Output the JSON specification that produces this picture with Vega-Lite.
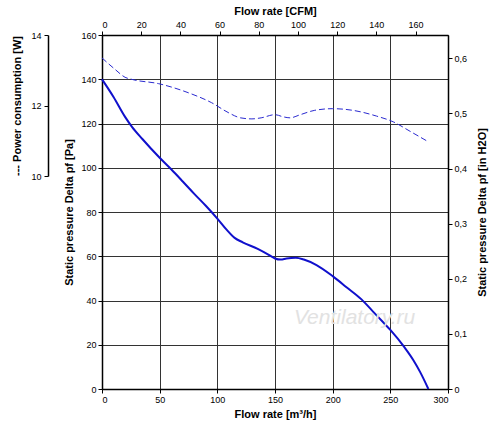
{
  "$schema": "https://vega.github.io/schema/vega-lite/v6.json",
  "width": 346,
  "height": 354,
  "autosize": "none",
  "padding": {"left": 102, "top": 35, "right": 52, "bottom": 38},
  "background": "white",
  "view": {"stroke": null},
  "config": {
    "axis": {
      "labelFont": "Liberation Sans",
      "labelFontSize": 9,
      "labelColor": "black",
      "titleFont": "Liberation Sans",
      "titleFontSize": 11,
      "titleFontWeight": "bold",
      "titleColor": "black",
      "domainColor": "black",
      "domainWidth": 1.5,
      "tickColor": "black",
      "tickSize": 4,
      "gridColor": "#333333",
      "gridWidth": 1,
      "gridOpacity": 1
    }
  },
  "datasets": {
    "pressure": [
      {"flow": 0, "pa": 140},
      {"flow": 10, "pa": 132},
      {"flow": 20, "pa": 123},
      {"flow": 26, "pa": 118.5},
      {"flow": 35, "pa": 113},
      {"flow": 50, "pa": 104.5},
      {"flow": 60, "pa": 99.3},
      {"flow": 70, "pa": 93.8},
      {"flow": 80, "pa": 88.2},
      {"flow": 90, "pa": 82.8},
      {"flow": 100, "pa": 77},
      {"flow": 108, "pa": 72},
      {"flow": 115, "pa": 68.3},
      {"flow": 122, "pa": 66.3},
      {"flow": 135, "pa": 63.3},
      {"flow": 145, "pa": 60.5},
      {"flow": 150, "pa": 59},
      {"flow": 155, "pa": 58.5},
      {"flow": 160, "pa": 59},
      {"flow": 168, "pa": 59.3},
      {"flow": 175, "pa": 58.5},
      {"flow": 186, "pa": 56},
      {"flow": 200, "pa": 51},
      {"flow": 212, "pa": 46},
      {"flow": 225, "pa": 40.5},
      {"flow": 235, "pa": 35},
      {"flow": 245, "pa": 29.5},
      {"flow": 250, "pa": 26.7},
      {"flow": 262, "pa": 19},
      {"flow": 270, "pa": 13},
      {"flow": 276, "pa": 7.5},
      {"flow": 283, "pa": 0}
    ],
    "power": [
      {"flow": 0, "w": 13.35},
      {"flow": 11.5, "w": 13.02},
      {"flow": 20, "w": 12.8},
      {"flow": 26, "w": 12.74},
      {"flow": 49, "w": 12.62},
      {"flow": 75, "w": 12.36},
      {"flow": 95, "w": 12.08},
      {"flow": 110, "w": 11.79},
      {"flow": 120, "w": 11.65},
      {"flow": 130, "w": 11.62},
      {"flow": 138, "w": 11.65},
      {"flow": 150, "w": 11.74},
      {"flow": 157, "w": 11.68},
      {"flow": 163, "w": 11.65},
      {"flow": 172, "w": 11.74},
      {"flow": 184, "w": 11.86},
      {"flow": 200, "w": 11.91},
      {"flow": 218, "w": 11.86},
      {"flow": 238, "w": 11.7},
      {"flow": 253, "w": 11.53},
      {"flow": 267, "w": 11.27},
      {"flow": 283, "w": 10.97}
    ],
    "one": [{"label": "Ventilatory.ru"}]
  },
  "resolve": {"scale": {"x": "independent", "y": "independent"}},
  "layer": [
    {
      "data": {"name": "pressure"},
      "mark": {"type": "line", "color": "#1010cc", "strokeWidth": 2, "interpolate": "monotone"},
      "encoding": {
        "x": {
          "field": "flow", "type": "quantitative",
          "scale": {"domain": [0, 300], "nice": false},
          "axis": {"orient": "bottom", "values": [0, 50, 100, 150, 200, 250, 300], "grid": true, "title": "Flow rate [m³/h]", "titlePadding": 4, "labelPadding": 2}
        },
        "y": {
          "field": "pa", "type": "quantitative",
          "scale": {"domain": [0, 160], "nice": false},
          "axis": {"orient": "left", "values": [0, 20, 40, 60, 80, 100, 120, 140, 160], "grid": true, "title": "Static pressure Delta pf [Pa]", "titlePadding": 6, "labelPadding": 2}
        }
      }
    },
    {
      "data": {"name": "power"},
      "mark": {"type": "line", "color": "#2a2ad0", "strokeWidth": 1, "strokeDash": [6, 3], "interpolate": "monotone"},
      "encoding": {
        "x": {"field": "flow", "type": "quantitative", "scale": {"domain": [0, 300], "nice": false}, "axis": null},
        "y": {
          "field": "w", "type": "quantitative",
          "scale": {"domain": [10, 14], "range": [141, 0], "nice": false, "zero": false},
          "axis": {"orient": "left", "offset": 54, "values": [10, 12, 14], "grid": false, "title": "--- Power consumption [W]", "titlePadding": 8, "labelPadding": 3}
        }
      }
    },
    {
      "data": {"name": "one"},
      "mark": {"type": "point", "opacity": 0},
      "encoding": {
        "x": {"datum": 0, "type": "quantitative", "scale": {"domain": [0, 300], "nice": false}, "axis": null},
        "y": {
          "datum": 0, "type": "quantitative",
          "scale": {"domain": [0, 0.64234], "nice": false},
          "axis": {"orient": "right", "values": [0, 0.1, 0.2, 0.3, 0.4, 0.5, 0.6], "grid": false, "labelExpr": "datum.value == 0 ? '0' : replace(format(datum.value, '.1f'), '.', ',')", "title": "Static pressure Delta pf [in H2O]", "titleAngle": -90, "titleBaseline": "top", "titlePadding": 10, "labelPadding": 2}
        }
      }
    },
    {
      "data": {"name": "one"},
      "mark": {"type": "point", "opacity": 0},
      "encoding": {
        "x": {
          "datum": 0, "type": "quantitative",
          "scale": {"domain": [0, 176.57], "nice": false},
          "axis": {"orient": "top", "values": [0, 20, 40, 60, 80, 100, 120, 140, 160], "grid": false, "title": "Flow rate [CFM]", "titlePadding": 4, "labelPadding": 2}
        },
        "y": {"datum": 0, "type": "quantitative", "scale": {"domain": [0, 160], "nice": false}, "axis": null}
      }
    },
    {
      "data": {"name": "one"},
      "mark": {"type": "text", "font": "Liberation Sans", "fontStyle": "italic", "fontSize": 21, "color": "#e2e2e2", "align": "center", "baseline": "middle"},
      "encoding": {
        "x": {"datum": 219, "type": "quantitative", "scale": {"domain": [0, 300], "nice": false}, "axis": null},
        "y": {"datum": 32, "type": "quantitative", "scale": {"domain": [0, 160], "nice": false}, "axis": null},
        "text": {"field": "label"}
      }
    }
  ]
}
